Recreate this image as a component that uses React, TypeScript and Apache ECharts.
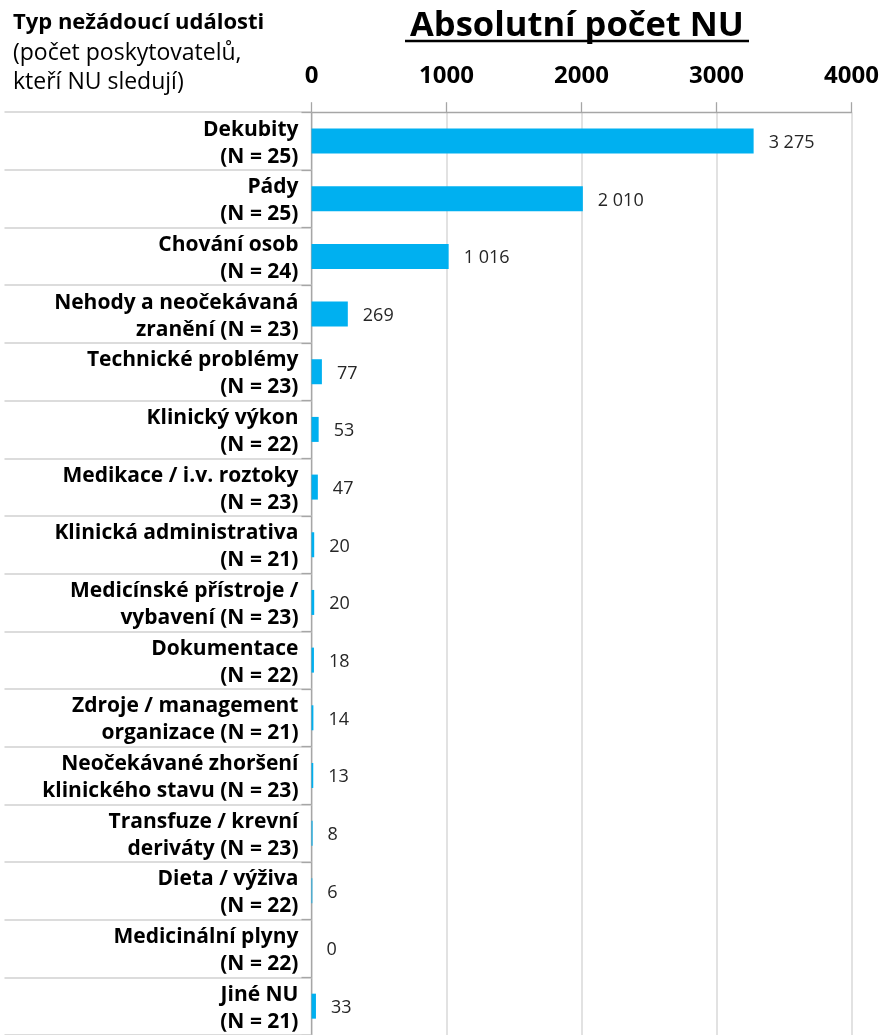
import React, { useEffect, useRef } from "react";
import * as echarts from "echarts";

const categories = [
  "Dekubity\n(N = 25)",
  "Pády\n(N = 25)",
  "Chování osob\n(N = 24)",
  "Nehody a neočekávaná\nzranění (N = 23)",
  "Technické problémy\n(N = 23)",
  "Klinický výkon\n(N = 22)",
  "Medikace / i.v. roztoky\n(N = 23)",
  "Klinická administrativa\n(N = 21)",
  "Medicínské přístroje /\nvybavení (N = 23)",
  "Dokumentace\n(N = 22)",
  "Zdroje / management\norganizace (N = 21)",
  "Neočekávané zhoršení\nklinického stavu (N = 23)",
  "Transfuze / krevní\nderiváty (N = 23)",
  "Dieta / výživa\n(N = 22)",
  "Medicinální plyny\n(N = 22)",
  "Jiné NU\n(N = 21)",
];

const values = [3275, 2010, 1016, 269, 77, 53, 47, 20, 20, 18, 14, 13, 8, 6, 0, 33];

const xTicks = [0, 1000, 2000, 3000, 4000];

const titleText = "Absolutní počet NU";
const headerBold = "Typ nežádoucí události";
const headerLines = ["(počet poskytovatelů,", "kteří NU sledují)"];

const FONT = "Open Sans";

function fmt(v: number): string {
  return String(v).replace(/\B(?=(\d{3})+(?!\d))/g, " ");
}

export default function App() {
  const ref = useRef<HTMLDivElement>(null);
  useEffect(() => {
    if (!ref.current) return;
    const chart = echarts.init(ref.current, undefined, { renderer: "svg" });
    chart.setOption({
      animation: false,
      textStyle: { fontFamily: FONT },
      grid: { left: 311.5, top: 112.2, width: 540, height: 926.4, containLabel: false },
      xAxis: {
        type: "value",
        position: "top",
        min: xTicks[0],
        max: xTicks[xTicks.length - 1],
        interval: 1000,
        axisLine: { show: true, lineStyle: { color: "#a6a6a6", width: 1.3 } },
        axisTick: { show: true, length: 10, lineStyle: { color: "#a6a6a6", width: 1.3 } },
        axisLabel: {
          margin: 27,
          color: "#000",
          fontWeight: "bold",
          fontSize: 24,
          fontFamily: FONT,
          formatter: (v: number) => String(v),
        },
        splitLine: { show: true, lineStyle: { color: "#d9d9d9", width: 1.5 } },
      },
      yAxis: [
        {
          type: "category",
          data: categories,
          inverse: true,
          axisLine: { show: true, lineStyle: { color: "#a6a6a6", width: 1.3 } },
          axisTick: { show: true, length: 307, lineStyle: { color: "#d0d0d0", width: 1.5 } },
          axisLabel: {
            margin: 13,
            color: "#000",
            fontWeight: "bold",
            fontSize: 21,
            lineHeight: 27,
            fontFamily: FONT,
            align: "right",
          },
        },
        {
          type: "category",
          data: categories,
          inverse: true,
          position: "left",
          axisLine: { show: false },
          axisTick: { show: true, length: 10, lineStyle: { color: "#a6a6a6", width: 1.3 } },
          axisLabel: { show: false },
        },
      ],
      series: [
        {
          type: "bar",
          data: values,
          barWidth: 25,
          itemStyle: { color: "#00B0F0" },
          label: {
            show: true,
            position: "right",
            distance: 15,
            color: "#262626",
            fontSize: 18,
            fontFamily: FONT,
            formatter: (p: any) => fmt(p.value),
          },
        },
      ],
      graphic: [
        {
          type: "text",
          x: 13,
          y: 20,
          style: {
            text: headerBold,
            fontFamily: FONT,
            fontWeight: "bold",
            fontSize: 22,
            fill: "#000",
            verticalAlign: "middle",
          },
        },
        {
          type: "text",
          x: 13,
          y: 36,
          style: {
            text: headerLines.join("\n"),
            fontFamily: FONT,
            fontSize: 23,
            lineHeight: 29,
            fill: "#000",
            verticalAlign: "top",
          },
        },
        {
          type: "text",
          x: 577,
          y: 22,
          style: {
            text: titleText,
            fontFamily: FONT,
            fontWeight: "bold",
            fontSize: 34.5,
            fill: "#000",
            align: "center",
            verticalAlign: "middle",
          },
        },
        {
          type: "line",
          shape: { x1: 405, y1: 41, x2: 749, y2: 41 },
          style: { stroke: "#000", lineWidth: 2.5 },
        },
      ],
    });
    return () => chart.dispose();
  }, []);
  return (
    <div
      ref={ref}
      style={{ position: "fixed", left: 0, top: 0, width: 883, height: 1035 }}
    />
  );
}
